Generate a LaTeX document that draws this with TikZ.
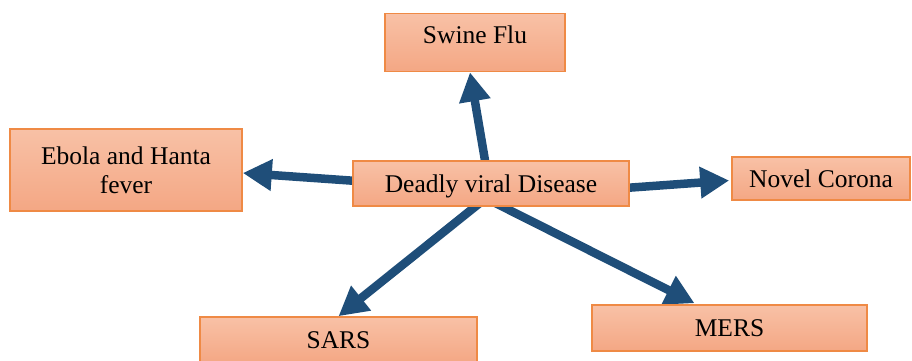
\documentclass[tikz,border=0pt]{standalone}
\usepackage{fontspec}
\setmainfont{Liberation Serif}
\usetikzlibrary{arrows.meta,backgrounds,calc}
\definecolor{boxtop}{HTML}{F8C1A6}
\definecolor{boxbot}{HTML}{F4A784}
\definecolor{boxline}{HTML}{EF8A45}
\definecolor{arrowblue}{HTML}{1F4E79}
\tikzset{
  disease/.style={draw=boxline, line width=1.6pt, top color=boxtop, bottom color=boxbot,
    inner sep=0pt, font=\fontsize{25.5pt}{29pt}\selectfont,
    text height=17pt, text depth=0pt},
  spoke/.style={draw=arrowblue, line width=8.5pt,
    -{Triangle[length=29pt,width=30pt]}},
}
\begin{document}
\begin{tikzpicture}[x=1pt,y=-1pt]
  \useasboundingbox (0,0) rectangle (912,360);
  \clip (0,0) rectangle (912,360);

  % centre box and the five diseases around it
  \node[disease, minimum width=276pt, minimum height=45pt] (deadly) at (491,183.5) {Deadly viral Disease};
  \node[disease, minimum width=180pt, minimum height=58pt, text depth=15pt] (swine) at (475,42.5) {Swine Flu};
  \node[disease, minimum width=232pt, minimum height=82pt, align=center,
        text height=, text depth=] (ebola) at (126,170) {Ebola and Hanta\\fever};
  \node[disease, minimum width=178pt, minimum height=43pt] (corona) at (821,178.5) {Novel Corona};
  \node[disease, minimum width=277pt, minimum height=46pt] (sars) at (338.5,340) {SARS};
  \node[disease, minimum width=275pt, minimum height=46pt] (mers) at (729.5,328) {MERS};

  % arrow roots, hidden under the centre box
  \coordinate (fromSwine) at ($(deadly.north)+(-4,12)$);
  \coordinate (fromEbola) at ($(deadly.west)+(12,-2)$);
  \coordinate (fromCorona) at ($(deadly.east)+(-12,5)$);
  \coordinate (fromSars) at ($(deadly.south)+(-6,-8)$);
  \coordinate (fromMers) at ($(deadly.south)+(-4,-8)$);

  \begin{scope}[on background layer]
    \draw[spoke] (fromSwine) -- ($(swine.south)+(-5,0)$);
    \draw[spoke] (fromEbola) -- ($(ebola.east)+(0,3)$);
    \draw[spoke] (fromCorona) -- ($(corona.west)+(-2,2)$);
    \draw[spoke] (fromSars) -- (sars.north);
    \draw[spoke] (fromMers) -- ($(mers.north)+(-35,-1)$);
  \end{scope}
\end{tikzpicture}
\end{document}
